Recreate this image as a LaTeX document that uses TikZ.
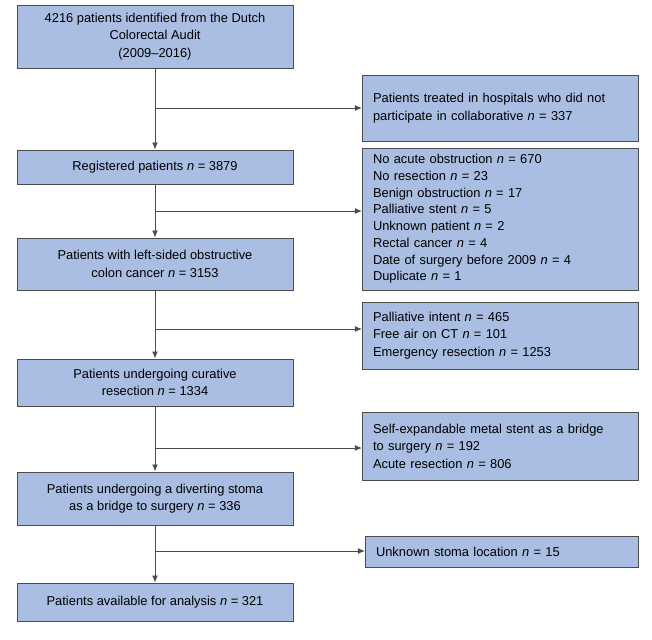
\documentclass[tikz,border=0pt]{standalone}
\usepackage{fontspec}
\setmainfont{Liberation Sans}
\usetikzlibrary{arrows.meta}
\definecolor{boxblue}{HTML}{A9BEE2}
\tikzset{
  box/.style={draw=black!70, fill=boxblue, line width=0.8pt, align=center, inner sep=2pt, font=\fontsize{11pt}{15pt}\selectfont},
  sidebox/.style={box, align=left, text width=#1, inner xsep=9pt},
  flow/.style={draw=black!70, line width=0.8pt, -{Latex[length=6pt,width=5pt]}}
}
\begin{document}
\begin{tikzpicture}[x=0.03cm,y=-0.03cm]
    \useasboundingbox (0,0) rectangle (652,639);

    \node[box, minimum width=276*0.03cm, minimum height=63*0.03cm] (A) at (155,36.5) {4216 patients identified from the Dutch\\Colorectal Audit\\(2009--2016)};
    \node[box, minimum width=276*0.03cm, minimum height=34*0.03cm] (B) at (155,167) {Registered patients \textit{n} = 3879};
    \node[box, minimum width=276*0.03cm, minimum height=52*0.03cm] (C) at (155,264) {Patients with left-sided obstructive\\colon cancer \textit{n} = 3153};
    \node[box, minimum width=276*0.03cm, minimum height=47*0.03cm] (D) at (155,382.5) {Patients undergoing curative\\resection \textit{n} = 1334};
    \node[box, minimum width=276*0.03cm, minimum height=53*0.03cm] (E) at (155,498.5) {Patients undergoing a diverting stoma\\as a bridge to surgery \textit{n} = 336};
    \node[box, minimum width=276*0.03cm, minimum height=38*0.03cm] (F) at (155,602) {Patients available for analysis \textit{n} = 321};

    \node[sidebox=276*0.03cm-18pt, minimum height=66*0.03cm, anchor=west] (R1) at (362,108) {Patients treated in hospitals who did not\\participate in collaborative \textit{n} = 337};
    \node[sidebox=276*0.03cm-18pt, minimum height=142*0.03cm, anchor=west, font=\fontsize{11pt}{14.3pt}\selectfont] (R2) at (362,219) {No acute obstruction \textit{n} = 670\\No resection \textit{n} = 23\\Benign obstruction \textit{n} = 17\\Palliative stent \textit{n} = 5\\Unknown patient \textit{n} = 2\\Rectal cancer \textit{n} = 4\\Date of surgery before 2009 \textit{n} = 4\\Duplicate \textit{n} = 1};
    \node[sidebox=276*0.03cm-18pt, minimum height=67*0.03cm, anchor=west] (R3) at (362,335.5) {Palliative intent \textit{n} = 465\\Free air on CT \textit{n} = 101\\Emergency resection \textit{n} = 1253};
    \node[sidebox=276*0.03cm-18pt, minimum height=68*0.03cm, anchor=west] (R4) at (362,446) {Self-expandable metal stent as a bridge\\to surgery \textit{n} = 192\\Acute resection \textit{n} = 806};
    \node[sidebox=273*0.03cm-18pt, minimum height=31*0.03cm, anchor=west] (R5) at (365,551.5) {Unknown stoma location \textit{n} = 15};

    \coordinate (j1) at (155,108);
    \coordinate (j2) at (155,211);
    \coordinate (j3) at (155,329);
    \coordinate (j4) at (155,448);
    \coordinate (j5) at (155,551);

    \draw[flow] (A) -- (B);
    \draw[flow] (B) -- (C);
    \draw[flow] (C) -- (D);
    \draw[flow] (D) -- (E);
    \draw[flow] (E) -- (F);
    \draw[flow] (j1) -- (j1 -| R1.west);
    \draw[flow] (j2) -- (j2 -| R2.west);
    \draw[flow] (j3) -- (j3 -| R3.west);
    \draw[flow] (j4) -- (j4 -| R4.west);
    \draw[flow] (j5) -- (j5 -| R5.west);
\end{tikzpicture}
\end{document}
